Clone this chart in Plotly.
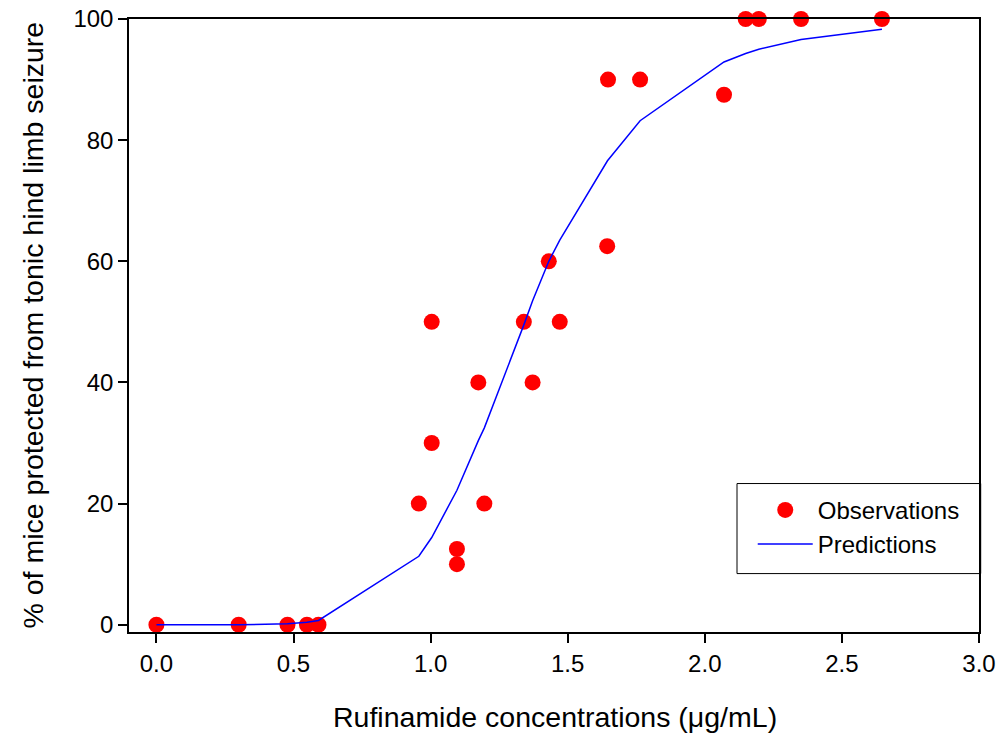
import plotly.graph_objects as go

# Observations
obs_x = [0.0, 0.3, 0.478, 0.549, 0.591, 0.957, 1.004, 1.004, 1.096, 1.096,
         1.174, 1.196, 1.34, 1.372, 1.431, 1.471, 1.644, 1.647, 1.764, 2.07,
         2.149, 2.197, 2.351, 2.646]
obs_y = [0, 0, 0, 0, 0, 20, 30, 50, 12.5, 10,
         40, 20, 50, 40, 60, 50, 62.5, 90, 90, 87.5,
         100, 100, 100, 100]

# Predictions
pred_x = [0.0, 0.3, 0.478, 0.549, 0.591, 0.957, 1.004, 1.096, 1.174, 1.196,
          1.34, 1.372, 1.431, 1.471, 1.645, 1.764, 2.07, 2.149, 2.197, 2.351, 2.646]
pred_y = [0, 0, 0.15, 0.4, 0.7, 11.3, 14.4, 22.2, 30.4, 32.5,
          49.5, 53.5, 60, 63.5, 76.6, 83.2, 92.9, 94.3, 95.0, 96.6, 98.3]

x_ticks = [0.0, 0.5, 1.0, 1.5, 2.0, 2.5, 3.0]
x_ticktext = ["0.0", "0.5", "1.0", "1.5", "2.0", "2.5", "3.0"]
y_ticks = [0, 20, 40, 60, 80, 100]

x_title = "Rufinamide concentrations (\u03bcg/mL)"
y_title = "% of mice protected from tonic hind limb seizure"

FONT = "Liberation Sans, Arial, sans-serif"

fig = go.Figure()
fig.add_trace(go.Scatter(
    x=obs_x, y=obs_y, mode="markers", name="Observations",
    marker=dict(color="#ff0000", size=16, line=dict(width=0)),
    cliponaxis=False,
))
fig.add_trace(go.Scatter(
    x=pred_x, y=pred_y, mode="lines", name="Predictions",
    line=dict(color="#0000ff", width=1.5),
    cliponaxis=False,
))

fig.update_layout(
    width=998, height=736,
    margin=dict(l=129, r=19, t=19, b=104),
    paper_bgcolor="white", plot_bgcolor="white",
    font=dict(family=FONT, size=24, color="black"),
    showlegend=True,
    legend=dict(
        x=0.7338, y=0.2352, xanchor="left", yanchor="top",
        bgcolor="rgba(0,0,0,0)", borderwidth=0,
        font=dict(family=FONT, size=24, color="black"),
        itemwidth=55, tracegroupgap=0,
    ),
    shapes=[dict(
        type="rect", xref="paper", yref="paper",
        x0=0.7153, x1=1.002, y0=0.0953, y1=0.2422,
        line=dict(color="black", width=1), fillcolor="rgba(0,0,0,0)",
    )],
    annotations=[
        dict(text=x_title, xref="paper", yref="paper", x=0.5, y=0,
             xanchor="center", yanchor="middle", yshift=-85, xshift=1,
             showarrow=False, font=dict(family=FONT, size=28.5)),
        dict(text=y_title, xref="paper", yref="paper", x=0, y=0.5,
             xanchor="center", yanchor="middle", xshift=-97,
             textangle=-90, showarrow=False, font=dict(family=FONT, size=28.5)),
    ],
    xaxis=dict(
        range=[-0.1, 3.0], tickvals=x_ticks, ticktext=x_ticktext,
        showgrid=False, zeroline=False, automargin=False,
        showline=True, linecolor="black", linewidth=1.5, mirror=True,
        ticks="outside", ticklen=9, tickwidth=1.5, tickcolor="black",
        tickfont=dict(family=FONT, size=24),
    ),
    yaxis=dict(
        range=[-1.2, 100], tickvals=y_ticks,
        showgrid=False, zeroline=False, automargin=False,
        showline=True, linecolor="black", linewidth=1.5, mirror=True,
        ticks="outside", ticklen=9, tickwidth=1.5, tickcolor="black",
        tickfont=dict(family=FONT, size=24),
    ),
)

fig.write_html("out.html")
